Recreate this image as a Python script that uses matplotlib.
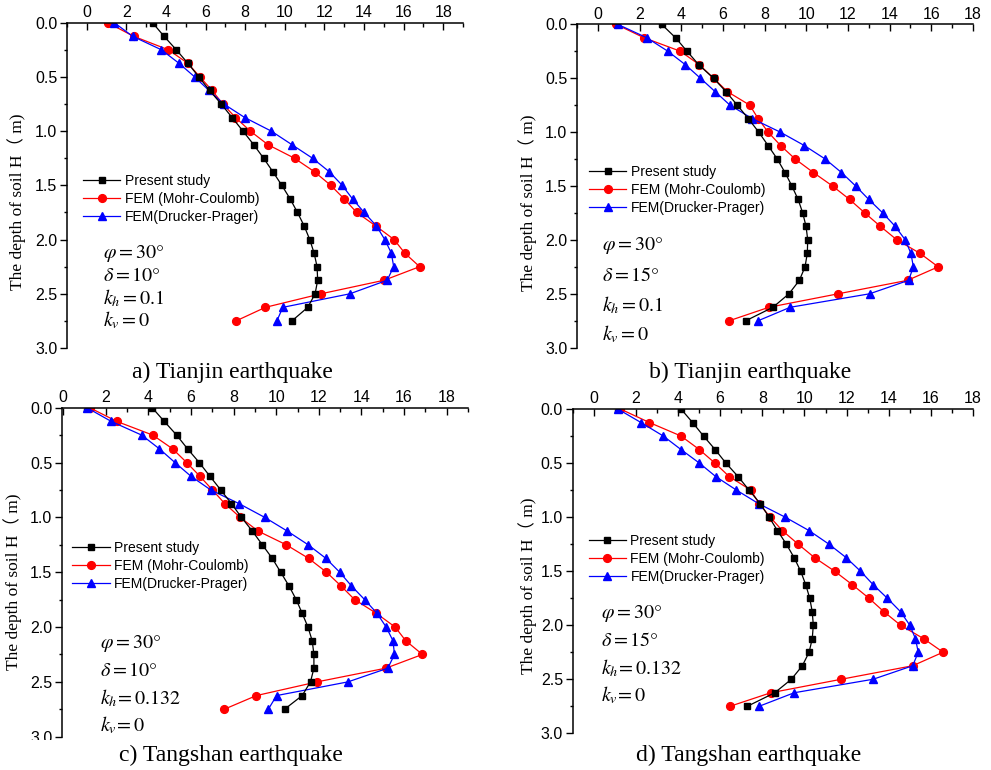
import numpy as np
import matplotlib.pyplot as plt
from matplotlib.patches import Rectangle
from matplotlib.ticker import MultipleLocator

plt.rcParams['font.family'] = ['Liberation Sans', 'DejaVu Sans']
plt.rcParams['mathtext.fontset'] = 'stix'

W, H = 991, 770

# depth of soil (m), one point every 0.125 m
depth = np.arange(23) * 0.125

# a) Tianjin, delta = 10, kh = 0.1
a_present = [3.32, 3.90, 4.52, 5.11, 5.66, 6.20, 6.79, 7.34, 7.89, 8.43, 8.93, 9.40,
             9.85, 10.27, 10.64, 10.98, 11.26, 11.48, 11.63, 11.66, 11.53, 11.16, 10.36]
a_mc = [1.06, 2.36, 4.12, 5.11, 5.71, 6.33, 6.87, 7.51, 8.26, 9.15, 10.49, 11.50,
        12.32, 13.00, 13.63, 14.60, 15.52, 16.06, 16.81, 15.02, 11.83, 9.02, 7.54]
a_dp = [1.39, 2.31, 3.77, 4.66, 5.45, 6.17, 6.92, 7.98, 9.32, 10.36, 11.40, 12.25,
        12.90, 13.42, 14.01, 14.63, 15.05, 15.38, 15.50, 15.17, 13.29, 9.90, 9.60]

# b) Tianjin, delta = 15, kh = 0.1
b_present = [3.06, 3.73, 4.28, 4.84, 5.55, 6.15, 6.69, 7.22, 7.72, 8.17, 8.61, 8.98,
             9.31, 9.61, 9.83, 9.99, 10.07, 10.05, 9.94, 9.67, 9.17, 8.40, 7.10]
b_mc = [0.87, 2.22, 3.96, 4.87, 5.55, 6.22, 7.29, 7.69, 8.17, 8.77, 9.47, 10.34,
        11.26, 12.08, 12.81, 13.56, 14.35, 15.46, 16.33, 14.86, 11.53, 8.21, 6.30]
b_dp = [0.95, 2.35, 3.36, 4.20, 4.92, 5.63, 6.34, 7.41, 8.75, 9.91, 10.91, 11.69,
        12.37, 13.00, 13.67, 14.27, 14.75, 15.02, 15.14, 14.91, 13.04, 9.23, 7.69]

# c) Tangshan, delta = 10, kh = 0.132
c_present = [4.18, 4.75, 5.33, 5.84, 6.39, 6.89, 7.40, 7.90, 8.37, 8.88, 9.35, 9.82,
             10.21, 10.60, 10.94, 11.22, 11.49, 11.69, 11.77, 11.77, 11.61, 11.22, 10.39]
c_mc = [1.25, 2.52, 4.21, 5.14, 5.80, 6.42, 7.01, 7.59, 8.31, 9.15, 10.47, 11.53,
        12.36, 13.04, 13.68, 14.70, 15.58, 16.08, 16.86, 15.15, 11.92, 9.07, 7.56]
c_dp = [1.12, 2.26, 3.69, 4.52, 5.25, 6.00, 6.93, 8.26, 9.46, 10.52, 11.50, 12.34,
        12.98, 13.53, 14.15, 14.73, 15.16, 15.48, 15.55, 15.24, 13.37, 10.02, 9.63]

# d) Tangshan, delta = 15, kh = 0.132
d_present = [4.14, 4.69, 5.21, 5.76, 6.27, 6.85, 7.37, 7.90, 8.32, 8.72, 9.14, 9.51,
             9.82, 10.06, 10.25, 10.37, 10.42, 10.37, 10.22, 9.90, 9.38, 8.59, 7.29]
d_mc = [1.26, 2.64, 4.14, 5.01, 5.75, 6.43, 7.45, 7.85, 8.37, 8.95, 9.70, 10.48,
        11.43, 12.27, 13.06, 13.77, 14.56, 15.66, 16.58, 15.14, 11.75, 8.40, 6.47]
d_dp = [1.14, 2.24, 3.30, 4.14, 5.01, 5.79, 6.77, 7.82, 9.08, 10.22, 11.16, 11.98,
        12.66, 13.26, 13.93, 14.56, 15.00, 15.27, 15.40, 15.14, 13.26, 9.51, 7.85]

labels = ['Present study', 'FEM (Mohr-Coulomb)', 'FEM(Drucker-Prager)']
captions = ['a) Tianjin earthquake', 'b) Tianjin earthquake',
            'c) Tangshan earthquake', 'd) Tangshan earthquake']
params = [
    [r'$\varphi = 30°$', r'$\delta = 10°$', r'$k_h = 0.1$', r'$k_v = 0$'],
    [r'$\varphi = 30°$', r'$\delta = 15°$', r'$k_h = 0.1$', r'$k_v = 0$'],
    [r'$\varphi = 30°$', r'$\delta = 10°$', r'$k_h\!= 0.132$', r'$k_v\!= 0$'],
    [r'$\varphi = 30°$', r'$\delta = 15°$', r'$k_h\!= 0.132$', r'$k_v\!= 0$'],
]
series = [(a_present, a_mc, a_dp), (b_present, b_mc, b_dp),
          (c_present, c_mc, c_dp), (d_present, d_mc, d_dp)]

# layout in pixels: (left, top, right, bottom), x limits, legend anchor,
# parameter block (x, first row y, row step), ylabel x/y, caption x/y
layout = [
    dict(box=(67, 22.7, 463, 348), xlim=(-1, 19), leg=(0.04, 0.535),
         par=(103, 253, 22.5), ylab=(17, 202), cap=(232, 372)),
    dict(box=(577, 24.3, 973, 347.7), xlim=(-1, 18), leg=(0.03, 0.565),
         par=(602, 246, 29.5), ylab=(528, 203), cap=(750, 372)),
    dict(box=(62, 407.7, 468, 736.7), xlim=(-0.05, 19), leg=(0.025, 0.595),
         par=(100, 644, 27), ylab=(13, 582), cap=(231, 755)),
    dict(box=(572.7, 409, 973, 733.3), xlim=(-1, 18), leg=(0.04, 0.615),
         par=(601, 614, 27), ylab=(528, 586), cap=(749, 755)),
]

fig = plt.figure(figsize=(W / 100, H / 100), dpi=100)
serif = ['Liberation Serif', 'Noto Sans CJK SC']

for i, (lay, (pres, mc, dp)) in enumerate(zip(layout, series)):
    l, t, r, b = lay['box']
    ax = fig.add_axes([l / W, 1 - b / H, (r - l) / W, (b - t) / H])
    ax.plot(pres, depth, '-s', color='black', lw=0.9, ms=4.8, label=labels[0], zorder=3)
    ax.plot(mc, depth, '-o', color='red', lw=0.9, ms=5.6, label=labels[1], zorder=2)
    ax.plot(dp, depth, '-^', color='blue', lw=0.9, ms=6.2, label=labels[2], zorder=2)

    ax.set_xlim(*lay['xlim'])
    ax.set_ylim(3.0, 0.0)
    ax.xaxis.tick_top()
    ax.xaxis.set_major_locator(MultipleLocator(2))
    ax.xaxis.set_minor_locator(MultipleLocator(1))
    ax.yaxis.set_major_locator(MultipleLocator(0.5))
    ax.yaxis.set_minor_locator(MultipleLocator(0.25))
    ax.yaxis.set_major_formatter(plt.FormatStrFormatter('%.1f'))
    ax.set_xticks([v for v in range(0, 19, 2)])
    ax.tick_params(axis='x', which='major', direction='in', length=5, width=1,
                   labelsize=11.5, pad=2)
    ax.tick_params(axis='x', which='minor', direction='in', length=3, width=1)
    ax.tick_params(axis='y', which='major', direction='out', length=5, width=1,
                   labelsize=11.5, pad=2)
    ax.tick_params(axis='y', which='minor', direction='out', length=2.5, width=1)
    ax.spines['right'].set_visible(False)
    ax.spines['bottom'].set_visible(False)
    for s in ('left', 'top'):
        ax.spines[s].set_linewidth(1.1)
    ax.set_facecolor('none')

    ax.legend(loc='upper left', bbox_to_anchor=lay['leg'], frameon=False, fontsize=10,
              handlelength=2.7, handletextpad=0.3, labelspacing=0.3,
              borderpad=0, borderaxespad=0)

    px, py, step = lay['par']
    for k, txt in enumerate(params[i]):
        fig.text(px / W, 1 - (py + k * step) / H, txt, fontsize=14.5,
                 ha='left', va='center')

    yx, yy = lay['ylab']
    fig.text(yx / W, 1 - yy / H, 'The depth of soil H\uff08 m)', family=serif,
             fontsize=12.5, rotation=90, ha='center', va='center')

    if i == 2:
        # the caption strip of panel c sits over the bottom tick label
        fig.patches.append(Rectangle((0, 0), 480 / W, 1 - 740 / H,
                                     transform=fig.transFigure, facecolor='white',
                                     edgecolor='none', zorder=5))
    cx, cy = lay['cap']
    fig.text(cx / W, 1 - cy / H, captions[i], family=serif, fontsize=17,
             ha='center', va='center', zorder=6)

fig.savefig('out.png', dpi=100)
